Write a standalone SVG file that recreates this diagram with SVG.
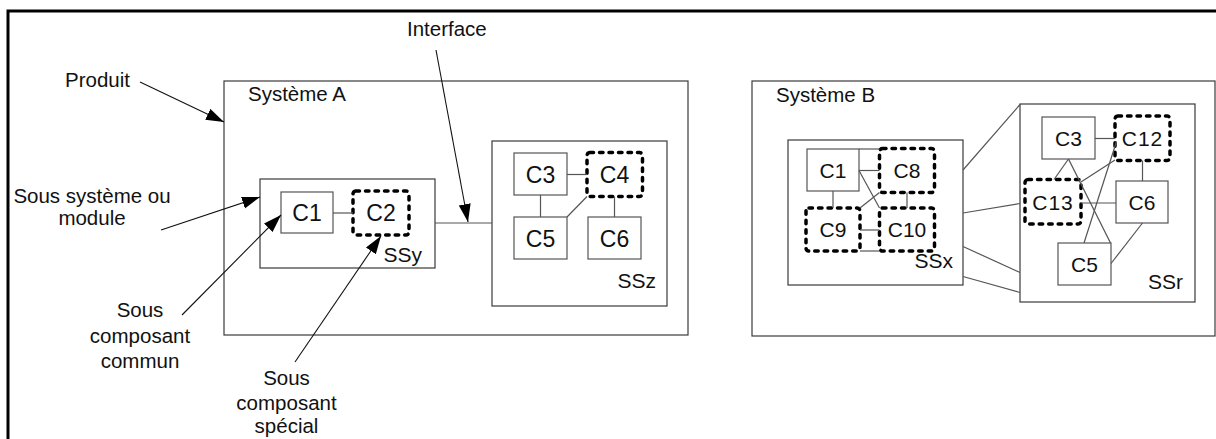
<svg xmlns="http://www.w3.org/2000/svg" width="1216" height="439" viewBox="0 0 1216 439">
  <style>
    text { font-family: "Liberation Sans", Arial, sans-serif; fill: #111; }
    .lbl { font-size: 20.5px; }
    .cl { font-size: 23px; text-anchor: middle; }
    .cb { font-size: 21px; text-anchor: middle; }
    .ss { font-size: 21px; text-anchor: end; }
    .mid { text-anchor: middle; }
    .box { fill: #fff; stroke: #3a3a3a; stroke-width: 1.2; }
    .comp { fill: #fff; stroke: #555; stroke-width: 1.2; }
    .spec { fill: #fff; stroke: #000; stroke-width: 3.5; stroke-dasharray: 3.5 6; stroke-linecap: round; }
    .link { fill: none; stroke: #555; stroke-width: 1.2; }
    .arrow { fill: none; stroke: #111; stroke-width: 1.1; marker-end: url(#head); }
  </style>
  <defs>
    <marker id="head" markerUnits="userSpaceOnUse" markerWidth="19" markerHeight="13" refX="18" refY="6" orient="auto">
      <path d="M0,0 L18,6 L0,12 z" fill="#000"/>
    </marker>
  </defs>

  <rect width="1216" height="439" fill="#fff"/>

  <!-- product frame (runs past the page edges) -->
  <g id="produit">
    <path d="M8,439 V11 H1216" fill="none" stroke="#000" stroke-width="3"/>
  </g>

  <!-- Système A -->
  <g id="systeme-a">
    <rect class="box" x="224" y="81" width="464" height="254"/>
    <text class="lbl" x="248" y="101">Système A</text>
  </g>
  <g id="ssy">
    <rect class="box" x="260" y="179" width="175" height="89"/>
    <text class="ss" x="422" y="262">SSy</text>
  </g>
  <g id="a-c1">
    <rect class="comp" x="281" y="192" width="52" height="41"/>
    <text class="cl" x="307" y="220.5">C1</text>
  </g>
  <g id="a-c2">
    <rect class="spec" x="353" y="191" width="56" height="44" rx="3"/>
    <text class="cl" x="381" y="220.5">C2</text>
  </g>
  <g id="ssz">
    <rect class="box" x="492" y="141" width="175" height="165"/>
    <text class="ss" x="656" y="288">SSz</text>
  </g>
  <g id="a-c3">
    <rect class="comp" x="514" y="153" width="53" height="42"/>
    <text class="cl" x="540.5" y="182.5">C3</text>
  </g>
  <g id="a-c4">
    <rect class="spec" x="587" y="152.5" width="55.5" height="44" rx="3"/>
    <text class="cl" x="614.5" y="182.5">C4</text>
  </g>
  <g id="a-c5">
    <rect class="comp" x="514" y="217" width="53" height="42"/>
    <text class="cl" x="540.5" y="246.5">C5</text>
  </g>
  <g id="a-c6">
    <rect class="comp" x="588" y="217" width="53" height="42"/>
    <text class="cl" x="614.5" y="246.5">C6</text>
  </g>

  <!-- Système B -->
  <g id="systeme-b">
    <rect class="box" x="752" y="81" width="463" height="255"/>
    <text class="lbl" x="776" y="101.5">Système B</text>
  </g>
  <g id="ssx">
    <rect class="box" x="788" y="140" width="175" height="145"/>
    <text class="ss" x="953" y="268">SSx</text>
  </g>
  <g id="b-c1">
    <rect class="comp" x="807" y="149" width="52" height="42"/>
    <text class="cb" x="833" y="177.5">C1</text>
  </g>
  <g id="b-c8">
    <rect class="spec" x="879.5" y="148.5" width="55" height="44" rx="3"/>
    <text class="cb" x="907" y="178">C8</text>
  </g>
  <g id="b-c9">
    <rect class="spec" x="806" y="208" width="54" height="43" rx="3"/>
    <text class="cb" x="833" y="237">C9</text>
  </g>
  <g id="b-c10">
    <rect class="spec" x="879.5" y="208" width="55" height="43" rx="3"/>
    <text class="cb" x="907" y="237">C10</text>
  </g>
  <g id="ssr">
    <rect class="box" x="1020" y="104" width="175" height="198"/>
    <text class="ss" x="1183" y="289">SSr</text>
  </g>
  <g id="r-c3">
    <rect class="comp" x="1042" y="117" width="53" height="42"/>
    <text class="cb" x="1068.5" y="145.5">C3</text>
  </g>
  <g id="r-c12">
    <rect class="spec" x="1115" y="116" width="55" height="44.5" rx="3"/>
    <text class="cb" x="1142.5" y="145.5" letter-spacing="1">C12</text>
  </g>
  <g id="r-c13">
    <rect class="spec" x="1025" y="179.5" width="56" height="44.5" rx="3"/>
    <text class="cb" x="1053" y="209.5" letter-spacing="1">C13</text>
  </g>
  <g id="r-c6">
    <rect class="comp" x="1116" y="181" width="52" height="42"/>
    <text class="cb" x="1142" y="209.5">C6</text>
  </g>
  <g id="r-c5">
    <rect class="comp" x="1058" y="243" width="53" height="42"/>
    <text class="cb" x="1084.5" y="271.5">C5</text>
  </g>

  <!-- connectors -->
  <g id="connectors">
    <!-- Système A -->
    <line class="link" x1="333" y1="213" x2="353" y2="213"/>
    <line class="link" x1="435" y1="223" x2="492" y2="223"/>
    <line class="link" x1="567" y1="174.5" x2="587" y2="174.5"/>
    <line class="link" x1="540.5" y1="195" x2="540.5" y2="217"/>
    <line class="link" x1="614.5" y1="196.5" x2="614.5" y2="217"/>
    <line class="link" x1="567" y1="217" x2="587" y2="196.5"/>
    <!-- SSx -->
    <line class="link" x1="859" y1="149" x2="879.5" y2="149"/>
    <line class="link" x1="859" y1="170.5" x2="879.5" y2="170.5"/>
    <line class="link" x1="859" y1="170.5" x2="879.5" y2="208"/>
    <line class="link" x1="879.5" y1="192.5" x2="860" y2="208"/>
    <line class="link" x1="833" y1="191" x2="833" y2="208"/>
    <line class="link" x1="907" y1="192.5" x2="907" y2="208"/>
    <line class="link" x1="860" y1="230" x2="879.5" y2="230"/>
    <line class="link" x1="860" y1="251" x2="879.5" y2="251"/>
    <!-- SSx to SSr -->
    <line class="link" x1="963" y1="170" x2="1020" y2="104.5"/>
    <line class="link" x1="963" y1="213" x2="1020" y2="203.5"/>
    <line class="link" x1="963" y1="246.5" x2="1020" y2="272.5"/>
    <line class="link" x1="963" y1="276.5" x2="1020" y2="292.5"/>
    <!-- SSr -->
    <line class="link" x1="1095" y1="138.5" x2="1115" y2="138.5"/>
    <line class="link" x1="1068.5" y1="159" x2="1054" y2="179.5"/>
    <line class="link" x1="1068.5" y1="159" x2="1110.5" y2="243"/>
    <line class="link" x1="1115" y1="160" x2="1081" y2="182"/>
    <line class="link" x1="1116.5" y1="141.5" x2="1084" y2="243"/>
    <line class="link" x1="1142.5" y1="160.5" x2="1142.5" y2="181"/>
    <line class="link" x1="1081" y1="203" x2="1116" y2="203"/>
    <line class="link" x1="1142.5" y1="223" x2="1111" y2="263.5"/>
    <!-- annotation arrows -->
    <line class="arrow" x1="140" y1="82" x2="224" y2="122"/>
    <line class="arrow" x1="161" y1="230" x2="260" y2="197"/>
    <line class="arrow" x1="182" y1="315" x2="281" y2="215"/>
    <line class="arrow" x1="295" y1="362" x2="381" y2="236"/>
    <line class="arrow" x1="436" y1="50" x2="468" y2="222"/>
  </g>

  <!-- annotation labels -->
  <g id="label-produit">
    <text class="lbl" x="65" y="87">Produit</text>
  </g>
  <g id="label-interface">
    <text class="lbl" x="407" y="36">Interface</text>
  </g>
  <g id="label-sous-systeme">
    <text class="lbl mid" x="92" y="203">Sous système ou</text>
    <text class="lbl mid" x="92" y="225">module</text>
  </g>
  <g id="label-commun">
    <text class="lbl mid" x="140" y="317">Sous</text>
    <text class="lbl mid" x="140" y="343">composant</text>
    <text class="lbl mid" x="140" y="368">commun</text>
  </g>
  <g id="label-special">
    <text class="lbl mid" x="286.5" y="385">Sous</text>
    <text class="lbl mid" x="286.5" y="410">composant</text>
    <text class="lbl mid" x="286.5" y="433">spécial</text>
  </g>
</svg>
